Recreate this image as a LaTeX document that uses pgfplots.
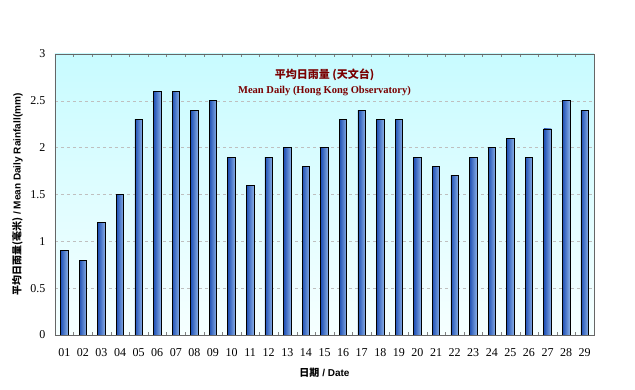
\documentclass[border=0pt]{standalone}
\usepackage{pgfplots}
\pgfplotsset{compat=1.18}
\usepackage{fontspec}
\setmainfont{Liberation Serif}
\setsansfont{Liberation Sans}
\newfontfamily\cjk{Noto Sans CJK TC}
\definecolor{bgtop}{HTML}{C8FBFF}
\definecolor{bgbot}{HTML}{F6FFFF}
\definecolor{bardark}{HTML}{1E4FB4}
\definecolor{barlight}{HTML}{8AB0E6}
\definecolor{titlered}{HTML}{7A0000}
\pgfplotsset{mybar/.style={ybar, bar shift=0pt, bar width=7.5pt, draw=black, line width=0.7pt, left color=bardark, right color=barlight}}
\begin{document}
\begin{tikzpicture}[x=1pt,y=1pt]
\path[use as bounding box] (0,0) rectangle (635,390);
\begin{axis}[
  at={(55pt,55pt)}, anchor=south west,
  scale only axis, width=539pt, height=281pt,
  xmin=0.5, xmax=29.5, ymin=0, ymax=3,
  ytick={0,0.5,1,1.5,2,2.5,3},
  xtick={1,...,29},
  xticklabels={01,02,03,04,05,06,07,08,09,10,11,12,13,14,15,16,17,18,19,20,21,22,23,24,25,26,27,28,29},
  minor xtick={1.5,2.5,...,28.5},
  major x tick style={draw=none},
  minor tick length=3pt,
  x tick style={gray},
  ytick style={draw=none},
  ymajorgrids, grid style={dashed, gray!50},
  axis line style={gray!80!black},
  axis background/.style={top color=bgtop, bottom color=bgbot},
  tick label style={font=\fontsize{12}{14}\selectfont},
  /pgf/number format/assume math mode=true,
  yticklabel style={xshift=-6pt},
  xticklabel style={yshift=-10pt},
  xlabel={\bfseries{\cjk 日期} / Date},
  xlabel style={font=\fontsize{10}{12}\selectfont\sffamily, yshift=-5pt},
  ylabel={\bfseries{\cjk 平均日雨量(毫米)} / Mean Daily Rainfall(mm)},
  ylabel style={font=\fontsize{10}{12}\selectfont\sffamily, yshift=1pt},
]
\addplot[mybar] coordinates {(1,0.9)};
\addplot[mybar] coordinates {(2,0.8)};
\addplot[mybar] coordinates {(3,1.2)};
\addplot[mybar] coordinates {(4,1.5)};
\addplot[mybar] coordinates {(5,2.3)};
\addplot[mybar] coordinates {(6,2.6)};
\addplot[mybar] coordinates {(7,2.6)};
\addplot[mybar] coordinates {(8,2.4)};
\addplot[mybar] coordinates {(9,2.5)};
\addplot[mybar] coordinates {(10,1.9)};
\addplot[mybar] coordinates {(11,1.6)};
\addplot[mybar] coordinates {(12,1.9)};
\addplot[mybar] coordinates {(13,2.0)};
\addplot[mybar] coordinates {(14,1.8)};
\addplot[mybar] coordinates {(15,2.0)};
\addplot[mybar] coordinates {(16,2.3)};
\addplot[mybar] coordinates {(17,2.4)};
\addplot[mybar] coordinates {(18,2.3)};
\addplot[mybar] coordinates {(19,2.3)};
\addplot[mybar] coordinates {(20,1.9)};
\addplot[mybar] coordinates {(21,1.8)};
\addplot[mybar] coordinates {(22,1.7)};
\addplot[mybar] coordinates {(23,1.9)};
\addplot[mybar] coordinates {(24,2.0)};
\addplot[mybar] coordinates {(25,2.1)};
\addplot[mybar] coordinates {(26,1.9)};
\addplot[mybar] coordinates {(27,2.2)};
\addplot[mybar] coordinates {(28,2.5)};
\addplot[mybar] coordinates {(29,2.4)};
\node[text=titlered, font=\fontsize{11}{13}\selectfont\bfseries\cjk] at (rel axis cs:0.5,0.925) {平均日雨量 (天文台)};
\node[text=titlered, font=\fontsize{10.5}{12}\selectfont\bfseries] at (rel axis cs:0.5,0.87) {Mean Daily (Hong Kong Observatory)};
\end{axis}
\end{tikzpicture}
\end{document}
